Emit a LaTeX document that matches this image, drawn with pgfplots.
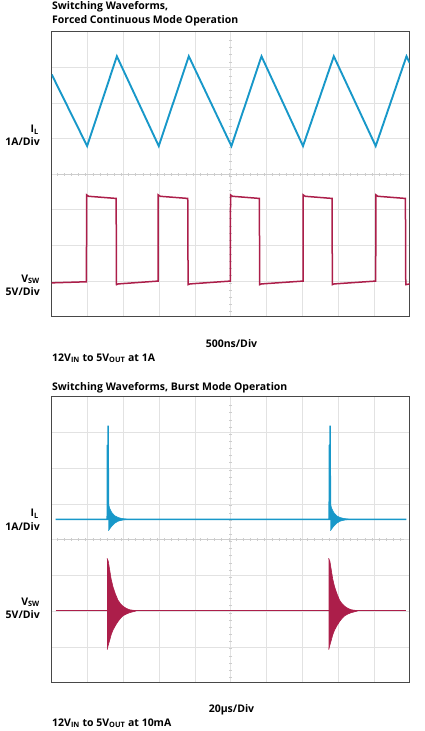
\documentclass[border=0pt]{standalone}
\usepackage{fontspec}
\setmainfont{Open Sans}
\usepackage{pgfplots}
\pgfplotsset{compat=1.18}
\definecolor{ilblue}{RGB}{24,152,201}
\definecolor{vswred}{RGB}{172,30,74}
\definecolor{gridc}{RGB}{226,226,226}
\definecolor{framec}{RGB}{72,72,72}
\definecolor{tickc}{RGB}{205,205,205}
\newcommand\lbl{\fontsize{10.5bp}{12bp}\selectfont\bfseries}
\pgfplotsset{scopestyle/.style={
  scale only axis, width=358bp,
  xmin=0,xmax=10,ymin=-4,ymax=4,
  xtick={1,...,9}, ytick={-3,...,3},
  xticklabels={}, yticklabels={},
  major tick length=0pt,
  grid=major, grid style={gridc, line width=0.7bp},
  axis line style={framec, line width=1.5bp},
}}
\newcommand\centerticks[1]{%
  \draw[tickc, line width=0.5bp] (axis cs:0.15,0) -- (axis cs:9.85,0);
  \draw[tickc, line width=3.2bp, dash pattern=on 0.7bp off 6.46bp, dash phase=0.35bp] (axis cs:0.15,0) -- (axis cs:9.85,0);
  \draw[tickc, line width=3.2bp, dash pattern=on 0.7bp off #1, dash phase=0.35bp] (axis cs:5,-3.85) -- (axis cs:5,3.85);
  \fill[gray!45] (axis cs:5,4) ++(-3bp,0) -- ++(6bp,0) -- ++(-3bp,-4bp) -- cycle;
}
\begin{document}
\begin{tikzpicture}[x=1bp,y=1bp]
\useasboundingbox (0,0) rectangle (424,-731);
% ---------- top chart ----------
\node[anchor=base west, inner sep=0] at (52,-9.5) {\lbl Switching Waveforms,};
\node[anchor=base west, inner sep=0] at (52,-24) {\lbl Forced Continuous Mode Operation};
\begin{axis}[scopestyle, height=285bp, at={(51.7bp,-31.7bp)}, anchor=north west]
\centerticks{6.425bp}
\addplot[ilblue, line width=1.9bp] coordinates {
(0,2.80) (0.99,0.79) (1.82,3.31) (2.99,0.79) (3.83,3.31) (5.02,0.79)
(5.86,3.31) (7.02,0.79) (7.88,3.31) (9.05,0.79) (9.91,3.31) (10,3.12)};
\addplot[vswred, line width=1.5bp] coordinates {
(0,-3.05) (0.97,-3.02) (0.975,-0.58) (1.03,-0.62) (1.80,-0.68) (1.81,-3.10) (1.86,-3.08)
(2.97,-3.00) (2.975,-0.58) (3.03,-0.62) (3.80,-0.68) (3.81,-3.10) (3.86,-3.08)
(4.99,-3.00) (4.995,-0.58) (5.05,-0.62) (5.80,-0.68) (5.81,-3.10) (5.86,-3.08)
(7.02,-3.00) (7.025,-0.58) (7.08,-0.62) (7.83,-0.68) (7.84,-3.10) (7.89,-3.08)
(9.05,-3.00) (9.055,-0.58) (9.11,-0.62) (9.88,-0.68) (9.89,-3.10) (10,-3.08)};
\end{axis}
\node[anchor=base east, inner sep=0] at (39,-132.5) {\lbl I\textsubscript{L}};
\node[anchor=base east, inner sep=0] at (40,-145.5) {\lbl 1A/Div};
\node[anchor=base east, inner sep=0] at (40,-282) {\lbl V\textsubscript{SW}};
\node[anchor=base east, inner sep=0] at (40,-295) {\lbl 5V/Div};
\node[anchor=base, inner sep=0] at (231.5,-347) {\lbl 500ns/Div};
\node[anchor=base west, inner sep=0] at (52,-361) {\lbl 12V\textsubscript{IN} to 5V\textsubscript{OUT} at 1A};
% ---------- bottom chart ----------
\node[anchor=base west, inner sep=0] at (52,-390) {\lbl Switching Waveforms, Burst Mode Operation};
\begin{axis}[scopestyle, height=286bp, at={(51.7bp,-396.7bp)}, anchor=north west]
\centerticks{6.45bp}
\addplot[vswred, line width=1.3bp] coordinates {(0.11,-1.99) (9.89,-1.99)};
\addplot[vswred, fill=vswred, line width=0.6bp] coordinates {
(1.545,-0.52) (1.58,-0.60) (1.62,-0.85) (1.66,-1.10) (1.71,-1.31) (1.78,-1.52) (1.85,-1.69)
(1.92,-1.79) (1.99,-1.86) (2.08,-1.92) (2.18,-1.96) (2.35,-1.985)
(2.35,-1.995) (2.18,-2.04) (2.08,-2.08) (1.99,-2.13) (1.92,-2.20) (1.85,-2.29) (1.78,-2.40)
(1.71,-2.53) (1.66,-2.66) (1.62,-2.81) (1.58,-2.95) (1.55,-3.07) (1.545,-3.07)};
\addplot[vswred, fill=vswred, line width=0.6bp] coordinates {
(7.735,-0.52) (7.77,-0.60) (7.81,-0.85) (7.85,-1.10) (7.90,-1.31) (7.97,-1.52) (8.04,-1.69)
(8.11,-1.79) (8.18,-1.86) (8.27,-1.92) (8.37,-1.96) (8.54,-1.985)
(8.54,-1.995) (8.37,-2.04) (8.27,-2.08) (8.18,-2.13) (8.11,-2.20) (8.04,-2.29) (7.97,-2.40)
(7.90,-2.53) (7.85,-2.66) (7.81,-2.81) (7.77,-2.95) (7.74,-3.07) (7.735,-3.07)};
\addplot[ilblue, line width=1.4bp] coordinates {
(0.11,0.57) (1.55,0.57) (1.555,2.65) (1.562,0.80) (1.575,3.19) (1.588,0.57)
(7.75,0.57) (7.755,2.65) (7.762,0.80) (7.775,3.19) (7.788,0.57) (9.91,0.57)};
\addplot[ilblue, fill=ilblue, line width=0.5bp] coordinates {
(1.585,1.00) (1.62,0.88) (1.68,0.76) (1.76,0.67) (1.86,0.62) (1.98,0.59) (2.10,0.575)
(2.10,0.565) (1.98,0.55) (1.86,0.52) (1.76,0.46) (1.68,0.38) (1.62,0.30) (1.585,0.25)};
\addplot[ilblue, fill=ilblue, line width=0.5bp] coordinates {
(7.785,1.00) (7.82,0.88) (7.88,0.76) (7.96,0.67) (8.06,0.62) (8.18,0.59) (8.30,0.575)
(8.30,0.565) (8.18,0.55) (8.06,0.52) (7.96,0.46) (7.88,0.38) (7.82,0.30) (7.785,0.25)};
\end{axis}
\node[anchor=base east, inner sep=0] at (39,-516.5) {\lbl I\textsubscript{L}};
\node[anchor=base east, inner sep=0] at (40,-530) {\lbl 1A/Div};
\node[anchor=base east, inner sep=0] at (40,-605) {\lbl V\textsubscript{SW}};
\node[anchor=base east, inner sep=0] at (40,-618.5) {\lbl 5V/Div};
\node[anchor=base, inner sep=0] at (231.5,-712) {\lbl 20µs/Div};
\node[anchor=base west, inner sep=0] at (52,-726) {\lbl 12V\textsubscript{IN} to 5V\textsubscript{OUT} at 10mA};
\end{tikzpicture}
\end{document}
